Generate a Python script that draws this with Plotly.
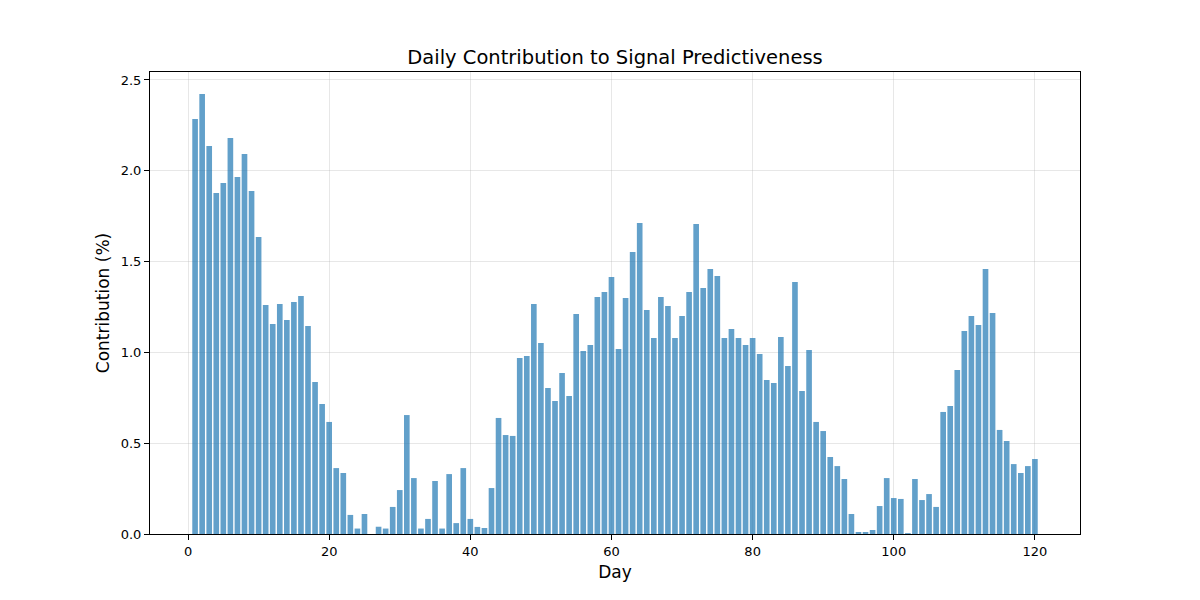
import plotly.graph_objects as go

days = list(range(1, 121))
contribution = [
    2.285, 2.423, 2.137, 1.878, 1.933, 2.181, 1.966, 2.093, 1.889, 1.635,
    1.261, 1.156, 1.266, 1.178, 1.278, 1.311, 1.145, 0.837, 0.716, 0.617,
    0.363, 0.336, 0.105, 0.030, 0.110, 0.000, 0.040, 0.030, 0.149, 0.242,
    0.655, 0.308, 0.030, 0.083, 0.292, 0.030, 0.330, 0.060, 0.363, 0.083,
    0.039, 0.033, 0.253, 0.639, 0.545, 0.540, 0.969, 0.980, 1.266, 1.052,
    0.804, 0.732, 0.887, 0.760, 1.211, 1.008, 1.041, 1.305, 1.333, 1.415,
    1.019, 1.300, 1.553, 1.713, 1.233, 1.079, 1.305, 1.256, 1.079, 1.200,
    1.333, 1.707, 1.355, 1.459, 1.421, 1.079, 1.129, 1.079, 1.041, 1.079,
    0.991, 0.848, 0.831, 1.085, 0.925, 1.388, 0.787, 1.013, 0.617, 0.567,
    0.424, 0.374, 0.303, 0.110, 0.011, 0.011, 0.022, 0.154, 0.308, 0.198,
    0.193, 0.005, 0.303, 0.187, 0.220, 0.149, 0.672, 0.705, 0.903, 1.118,
    1.200, 1.151, 1.459, 1.217, 0.573, 0.512, 0.385, 0.336, 0.374, 0.413,
]
x_ticks = [0, 20, 40, 60, 80, 100, 120]
y_ticks = [0.0, 0.5, 1.0, 1.5, 2.0, 2.5]

title_text = "Daily Contribution to Signal Predictiveness"
x_label = "Day"
y_label = "Contribution (%)"

fig = go.Figure()
fig.add_trace(go.Bar(
    x=days, y=contribution, width=0.8,
    marker=dict(color="rgba(31,119,180,0.7)", line=dict(width=0)),
))

font_family = "DejaVu Sans"
fig.update_layout(
    width=1200, height=600, autosize=False,
    paper_bgcolor="white", plot_bgcolor="white",
    margin=dict(l=142, r=128, t=64, b=74),
    showlegend=False,
    font=dict(family=font_family, color="black"),
    title=dict(text=title_text, x=607/1200, xanchor="center",
               y=1 - 49/600, yanchor="middle", yref="container",
               font=dict(size=19.5, family=font_family, color="black")),
)
fig.update_xaxes(
    range=[-5.39, 126.39], tickvals=x_ticks, ticktext=[str(t) for t in x_ticks],
    showgrid=True, gridcolor="rgba(176,176,176,0.3)", gridwidth=1,
    showline=True, linecolor="black", linewidth=1, mirror=True,
    ticks="outside", ticklen=5, tickcolor="black", tickwidth=1,
    tickfont=dict(size=13, family=font_family),
    zeroline=False,
    title=dict(text=x_label, font=dict(size=17, family=font_family), standoff=8),
)
fig.update_yaxes(
    range=[0, 2.544], tickvals=y_ticks, ticktext=[f"{t:.1f}" for t in y_ticks],
    showgrid=True, gridcolor="rgba(176,176,176,0.3)", gridwidth=1,
    showline=True, linecolor="black", linewidth=1, mirror=True,
    ticks="outside", ticklen=5, tickcolor="black", tickwidth=1,
    tickfont=dict(size=13, family=font_family),
    zeroline=False,
    title=dict(text=y_label, font=dict(size=17, family=font_family), standoff=6),
)

fig.write_html("out.html")
